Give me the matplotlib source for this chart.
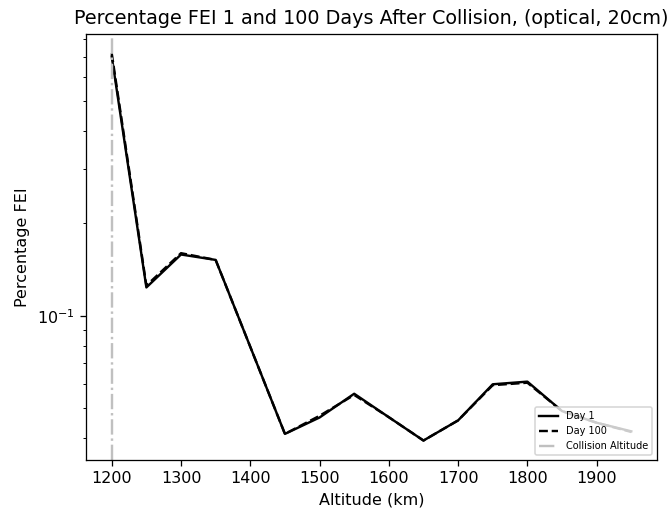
import matplotlib
matplotlib.use("Agg")
import matplotlib.pyplot as plt

# FEI fraction vs altitude, 1 and 100 days after the collision
altitudes = [1200, 1250, 1300, 1350, 1400, 1450, 1500, 1550, 1600, 1650, 1700, 1750, 1800, 1850, 1900, 1950]
fei_day1 = [0.700, 0.1237, 0.1584, 0.1521, 0.0792, 0.0412, 0.0466, 0.0557, 0.0467, 0.0392,
            0.0456, 0.0598, 0.0610, 0.0489, 0.0448, 0.0420]
fei_day100 = [0.717, 0.1255, 0.1600, 0.1521, 0.0792, 0.0412, 0.0472, 0.0552, 0.0467, 0.0392,
              0.0456, 0.0594, 0.0605, 0.0489, 0.0448, 0.0418]
collision_alt = 1200

fig, ax = plt.subplots(figsize=(670 / 115, 515 / 115), dpi=115)
fig.subplots_adjust(left=0.128, right=0.981, top=0.934, bottom=0.107)

ax.plot(altitudes, fei_day1, color="black", linestyle="-", label="Day 1")
ax.plot(altitudes, fei_day100, color="black", linestyle="--", label="Day 100")
ax.axvline(collision_alt, color="silver", linestyle="-.", label="Collision Altitude")

ax.set_yscale("log")
ax.set_xlabel("Altitude (km)")
ax.set_ylabel("Percentage FEI")
ax.set_title("Percentage FEI 1 and 100 Days After Collision, (optical, 20cm)")
ax.legend(loc="lower right", fontsize=6.1)

plt.savefig("out.png")
